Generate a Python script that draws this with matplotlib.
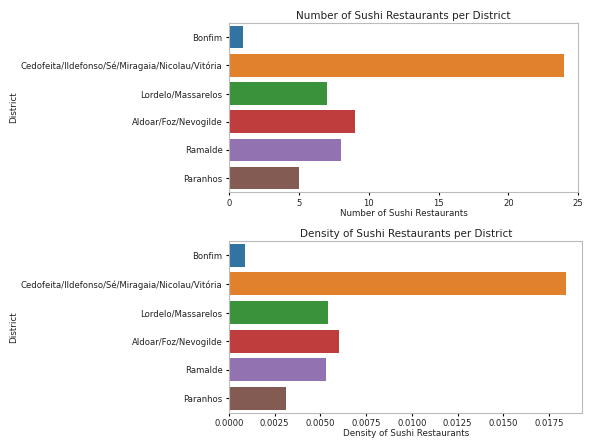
import matplotlib
matplotlib.use('Agg')
import matplotlib.pyplot as plt
import matplotlib.transforms as mtransforms
import seaborn as sns

districts = ['Bonfim', 'Cedofeita/Ildefonso/Sé/Miragaia/Nicolau/Vitória',
             'Lordelo/Massarelos', 'Aldoar/Foz/Nevogilde', 'Ramalde', 'Paranhos']
counts = [1, 24, 7, 9, 8, 5]
density = [0.00085, 0.0184, 0.0054, 0.0060, 0.0053, 0.0031]

fig = plt.figure(figsize=(5.94, 4.42), dpi=100)
ax1 = fig.add_axes([0.3855, 0.565, 0.588, 0.383])
ax2 = fig.add_axes([0.3855, 0.066, 0.595, 0.389])

palette = sns.color_palette()[:6]

sns.barplot(x=counts, y=districts, hue=districts, palette=palette, legend=False, ax=ax1, orient='h')
ax1.set_title('Number of Sushi Restaurants per District', fontsize=7.5, pad=3, color='#222222')
ax1.set_xlabel('Number of Sushi Restaurants', fontsize=6.3, labelpad=1, color='#222222')
ax1.set_ylabel('District', fontsize=6.3, color='#222222')
ax1.set_xlim(0, 25)
ax1.set_xticks([0, 5, 10, 15, 20, 25])

sns.barplot(x=density, y=districts, hue=districts, palette=palette, legend=False, ax=ax2, orient='h')
ax2.set_title('Density of Sushi Restaurants per District', fontsize=7.5, pad=3, color='#222222')
ax2.set_xlabel('Density of Sushi Restaurants', fontsize=6.3, labelpad=1, color='#222222')
ax2.set_ylabel('District', fontsize=6.3, color='#222222')
ax2.set_xticks([0, 0.0025, 0.005, 0.0075, 0.01, 0.0125, 0.015, 0.0175])
ax2.set_xticklabels(['0.0000', '0.0025', '0.0050', '0.0075', '0.0100', '0.0125', '0.0150', '0.0175'])

for ax in (ax1, ax2):
    ax.tick_params(labelsize=6.1, length=2.5, pad=2, labelcolor='#222222')
    trans = mtransforms.blended_transform_factory(fig.transFigure, ax.transAxes)
    ax.yaxis.set_label_coords(0.03, 0.5, transform=trans)
    for s in ax.spines.values():
        s.set_color('#bbbbbb')
        s.set_linewidth(0.8)

fig.savefig('out.png', dpi=100)
